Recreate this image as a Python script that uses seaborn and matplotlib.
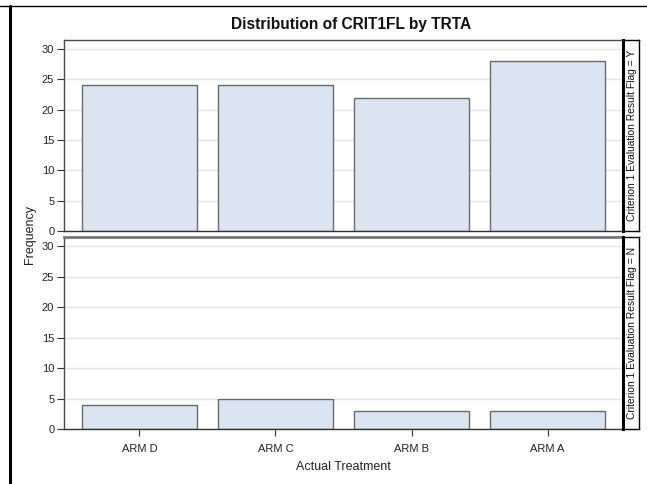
import matplotlib
matplotlib.use("Agg")
import matplotlib.pyplot as plt
import seaborn as sns
import pandas as pd
from matplotlib.lines import Line2D

arms = ["ARM D", "ARM C", "ARM B", "ARM A"]
freq_y = [24, 24, 22, 28]
freq_n = [4, 5, 3, 3]
row_labels = ["Criterion 1 Evaluation Result Flag = Y",
              "Criterion 1 Evaluation Result Flag = N"]
yticks = [0, 5, 10, 15, 20, 25, 30]

sns.set_theme(style="white")
plt.rcParams['font.family'] = ['Liberation Sans', 'DejaVu Sans']

W, H = 647, 484
fig = plt.figure(figsize=(W / 100, H / 100), dpi=100)

def rect(x0, y0, x1, y1):
    return [x0 / W, 1 - y1 / H, (x1 - x0) / W, (y1 - y0) / H]

panels = [(40, 231, freq_y, row_labels[0], False),
          (237, 429, freq_n, row_labels[1], True)]

bar_face = "#dbe5f1"
bar_edge = "#666b70"
frame = "#4a4a4a"

for (top, bot, vals, lab, show_x) in panels:
    ax = fig.add_axes(rect(64, top, 623, bot))
    df = pd.DataFrame({"arm": arms, "freq": vals})
    sns.barplot(data=df, x="arm", y="freq", order=arms, color=bar_face,
                saturation=1, edgecolor=bar_edge, linewidth=1.0, width=0.85,
                ax=ax, zorder=2)
    ax.set_xlim(-0.554, 3.554)
    ax.set_ylim(0, 31.5)
    ax.set_yticks(yticks)
    ax.yaxis.grid(True, color="#e4e4e4", linewidth=1, zorder=0)
    ax.xaxis.grid(False)
    ax.set_axisbelow(True)
    ax.set_xlabel("")
    ax.set_ylabel("")
    for s in ax.spines.values():
        s.set_color(frame)
        s.set_linewidth(1.0)
    ax.spines["bottom"].set_color("#333333")
    ax.tick_params(axis="y", which="both", left=True, length=5, width=0.8,
                   color="#333333", labelsize=8, labelcolor="#222222", pad=2)
    if show_x:
        ax.tick_params(axis="x", bottom=True, length=5, width=0.8,
                       color="#333333", labelsize=8, labelcolor="#222222", pad=6)
        ax.spines["top"].set_linewidth(2.0)
        ax.spines["top"].set_color("#777777")
    else:
        ax.tick_params(axis="x", bottom=False, labelbottom=False)

    sax = fig.add_axes(rect(623, top, 639, bot))
    sax.set_xticks([])
    sax.set_yticks([])
    sax.set_facecolor("white")
    for s in sax.spines.values():
        s.set_color("black")
        s.set_linewidth(1.0)
    sax.spines["left"].set_linewidth(2.2)
    sax.text(0.55, 0.5, lab, rotation=90, ha="center", va="center",
             fontsize=7.4, color="#111111", transform=sax.transAxes)

fig.text(351 / W, 1 - 24 / H, "Distribution of CRIT1FL by TRTA",
         ha="center", va="center", fontsize=11.2, fontweight="bold",
         color="#111111")
fig.text(30 / W, 1 - 234 / H, "Frequency", rotation=90, ha="center",
         va="center", fontsize=9, color="#222222")
fig.text(343 / W, 1 - 467 / H, "Actual Treatment", ha="center",
         va="center", fontsize=9, color="#222222")

# outer frame lines
fig.add_artist(Line2D([0, 1], [1 - 5.5 / H, 1 - 5.5 / H], color="black",
                      linewidth=1.0, transform=fig.transFigure))
fig.add_artist(Line2D([10 / W, 10 / W], [0, 1 - 5.5 / H], color="black",
                      linewidth=2.2, transform=fig.transFigure))

fig.savefig("out.png", dpi=100, facecolor="white")
